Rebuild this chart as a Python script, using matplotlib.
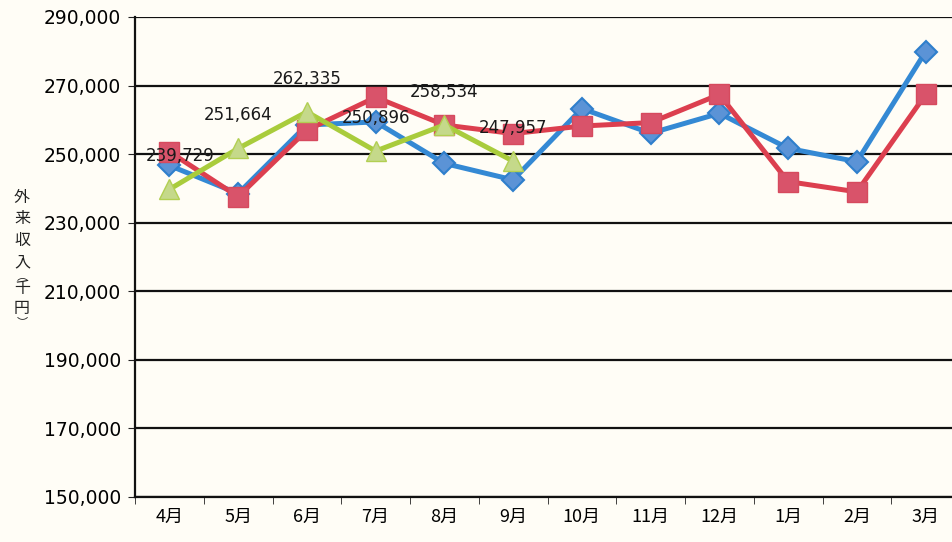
import matplotlib
matplotlib.use("Agg")
import matplotlib.pyplot as plt
from matplotlib.ticker import FuncFormatter, FixedLocator

plt.rcParams['font.family'] = ['DejaVu Sans', 'Noto Sans CJK JP']

months = ["4月", "5月", "6月", "7月", "8月", "9月", "10月", "11月", "12月", "1月", "2月", "3月"]
blue_vals = [246700, 238500, 258500, 259400, 247300, 242500, 263300, 256100, 261900, 251700, 247800, 279900]
red_vals = [250700, 237600, 257000, 266600, 258500, 256000, 258200, 259200, 267400, 242000, 239000, 267400]
green_vals = [239729, 251664, 262335, 250896, 258534, 247957]
y_ticks = [150000, 170000, 190000, 210000, 230000, 250000, 270000, 290000]
ylabel_chars = ["外", "来", "収", "入", "千", "円"]

W, H = 953, 542
fig = plt.figure(figsize=(W / 100, H / 100), dpi=100)
bg = "#fffdf6"
fig.patch.set_facecolor(bg)
ax = fig.add_axes([135 / W, 45 / H, 825 / W, 480 / H])
ax.set_facecolor(bg)

x = list(range(len(months)))
xg = list(range(len(green_vals)))

ax.plot(x, blue_vals, color="#3489d4", lw=3.6, marker="D", ms=11,
        mfc="#5b93d6", mec="#2f7fcc", mew=1.5, zorder=3)
ax.plot(x, red_vals, color="#dc3f4f", lw=3.6, marker="s", ms=15,
        mfc="#d9536a", mec="#d64a5e", mew=1, zorder=4)
ax.plot(xg, green_vals, color="#a9cc3c", lw=3.6, marker="^", ms=15,
        mfc="#c5d98a", mec="#b2cf52", mew=1, zorder=5)

for xi, v in zip(xg, green_vals):
    dx = 8 if xi == 0 else 0
    ax.annotate(f"{v:,}", (xi, v), xytext=(dx, 24), textcoords="offset points",
                ha="center", va="center", fontsize=12, color="#1a1a1a", zorder=6)

ax.set_ylim(150000, 290000)
ax.set_xlim(-0.5, len(months) - 0.5)
ax.yaxis.set_major_locator(FixedLocator(y_ticks))
ax.yaxis.set_major_formatter(FuncFormatter(lambda v, p: f"{int(v):,}"))
ax.grid(axis="y", color="#111111", lw=1.6)
ax.set_axisbelow(True)

ax.set_xticks(x)
ax.set_xticklabels(months, family=['Noto Sans CJK JP', 'DejaVu Sans'], fontsize=13)
ax.xaxis.set_minor_locator(FixedLocator([i + 0.5 for i in range(-1, len(months))]))
ax.tick_params(axis="x", which="major", length=0, pad=8)
ax.tick_params(axis="x", which="minor", length=5, color="#222")
ax.tick_params(axis="y", length=5, labelsize=13.5, color="#222", pad=5)

for s in ["top", "right"]:
    ax.spines[s].set_visible(False)
ax.spines["left"].set_color("#111")
ax.spines["left"].set_linewidth(1.6)
ax.spines["bottom"].set_color("#111")
ax.spines["bottom"].set_linewidth(1.6)

# vertical y-axis label
ys = [197, 219, 241, 263, 289, 309]
for ch, yy in zip(ylabel_chars, ys):
    fig.text(22 / W, 1 - yy / H, ch, ha="center", va="center", fontsize=11.5,
             family=['Noto Sans CJK JP', 'DejaVu Sans'], color="#222")
fig.text(22 / W, 1 - 276 / H, "︵", ha="center", va="center", fontsize=8,
         family=['Noto Sans CJK JP'], color="#222")
fig.text(22 / W, 1 - 322 / H, "︶", ha="center", va="center", fontsize=8,
         family=['Noto Sans CJK JP'], color="#222")

fig.savefig("out.png", dpi=100, facecolor=bg)
